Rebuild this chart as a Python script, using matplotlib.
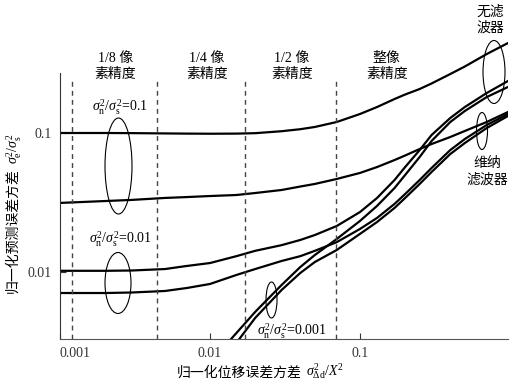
import matplotlib
matplotlib.use('Agg')
import matplotlib.pyplot as plt
from matplotlib.patches import Ellipse
from matplotlib.ticker import NullLocator

plt.rcParams['font.family'] = ['Liberation Serif', 'Noto Sans CJK SC']
plt.rcParams['mathtext.fontset'] = 'custom'
plt.rcParams['mathtext.rm'] = 'Liberation Serif'
plt.rcParams['mathtext.it'] = 'Liberation Serif:italic'
plt.rcParams['mathtext.bf'] = 'Liberation Serif:bold'
plt.rcParams['font.size'] = 10

# ---- data ----
x_err = [0.001, 0.002, 0.003, 0.005, 0.007, 0.01, 0.015, 0.02, 0.03, 0.04, 0.05,
         0.07, 0.1, 0.13, 0.17, 0.2, 0.25, 0.3, 0.4, 0.5, 0.7, 0.97]
nf_01 = [0.1, 0.1, 0.0998, 0.0993, 0.099, 0.0988, 0.099, 0.0997, 0.103, 0.1065, 0.1105,
         0.120, 0.137, 0.1538, 0.1756, 0.1892, 0.2073, 0.2271, 0.2657, 0.3009, 0.370, 0.444]
wf_01 = [0.0314, 0.0324, 0.0330, 0.0341, 0.0346, 0.0352, 0.0358, 0.0370, 0.0389, 0.0412,
         0.0430, 0.0467, 0.0516, 0.0569, 0.0639, 0.0689, 0.0767, 0.0833, 0.0936, 0.1034,
         0.120, 0.1416]
nf_001 = [0.0102, 0.0102, 0.01025, 0.0105, 0.01105, 0.0116, 0.0130, 0.0142, 0.0156, 0.0170,
          0.01845, 0.02143, 0.0270, 0.0341, 0.0459, 0.0569, 0.0754, 0.0967, 0.1282, 0.1538,
          0.194, 0.2366]
wf_001 = [0.00706, 0.00706, 0.00712, 0.0073, 0.00767, 0.0082, 0.00952, 0.0105, 0.0120,
          0.0130, 0.0142, 0.0164, 0.0204, 0.0245, 0.0309, 0.0364, 0.0459, 0.056, 0.0754,
          0.0905, 0.1142, 0.137]
x_err_low = [0.01, 0.015, 0.02, 0.03, 0.04, 0.05, 0.07, 0.1, 0.13, 0.17, 0.2, 0.25, 0.3,
             0.4, 0.5, 0.7, 0.97]
nf_0001 = [0.00222, 0.00364, 0.00516, 0.00806, 0.01086, 0.01325, 0.01728, 0.0233, 0.0299,
           0.0402, 0.0499, 0.0672, 0.0876, 0.120, 0.144, 0.1815, 0.2143]
wf_0001 = [0.00191, 0.00309, 0.00467, 0.00742, 0.00984, 0.0118, 0.0144, 0.0188, 0.0229,
           0.0289, 0.0341, 0.0430, 0.0524, 0.0706, 0.0847, 0.1086, 0.1326]

pixel_accuracy = [0.0012, 0.0044, 0.0172, 0.069]
acc_labels = ['1/8 像\n素精度', '1/4 像\n素精度', '1/2 像\n素精度', '整像\n素精度']
acc_label_x = [0.00233, 0.00955, 0.0352, 0.151]

x_ticks = [0.001, 0.01, 0.1]
x_ticklabels = ['0.001', '0.01', '0.1']
y_ticks = [0.01, 0.1]
y_ticklabels = ['0.01', '0.1']

# ---- figure ----
W, H = 515, 388
fig = plt.figure(figsize=(W / 100, H / 100), dpi=100)

def fx(p):
    return p / W

def fy(p):
    return 1 - p / H

ax = fig.add_axes([fx(60), fy(339), fx(508) - fx(60), fy(20) - fy(339)])
ax.set_xscale('log')
ax.set_yscale('log')
ylo, yhi = 10 ** (-2 - 67 / 139), 10 ** (-2 + 252 / 139)
ax.set_xlim(0.001, 0.97)
ax.set_ylim(ylo, yhi)

lw = 1.6
for ys in (nf_01, wf_01, nf_001, wf_001):
    ax.plot(x_err, ys, color='black', lw=lw, solid_joinstyle='round')
for ys in (nf_0001, wf_0001):
    ax.plot(x_err_low, ys, color='black', lw=lw, solid_joinstyle='round')

ax.vlines(pixel_accuracy, ylo, 0.245, colors='#444444', linestyles=(0, (3.5, 3)), lw=1.0)
for xa, lab in zip(acc_label_x, acc_labels):
    ax.text(xa, 0.30, lab, ha='center', va='center', linespacing=1.35, fontsize=10)

for s in ('top', 'right'):
    ax.spines[s].set_visible(False)
ax.spines['left'].set_bounds(ylo, 0.27)
ax.spines['left'].set_color('#333333')
ax.spines['bottom'].set_color('#555555')

ax.set_xticks(x_ticks, x_ticklabels)
ax.set_yticks(y_ticks, y_ticklabels)
ax.xaxis.set_minor_locator(NullLocator())
ax.yaxis.set_minor_locator(NullLocator())
ax.tick_params(direction='in', length=4, width=0.8, labelsize=10, pad=6, colors='#333333')
ax.get_xticklabels()[0].set_horizontalalignment('left')

# axis labels (Chinese part and math part drawn separately)
tx = fig.text(fx(177), fy(373), '归一化位移误差方差', ha='left', va='center', fontsize=10)
fig.text(0, 0, '$\\sigma_{\\Delta\\mathrm{d}}^{2}/X^{2}$', fontsize=10, ha='left', va='center',
         transform=matplotlib.transforms.offset_copy(fig.transFigure, fig=fig, x=0, y=0))
fig.texts[-1].remove()
ax.annotate('$\\sigma_{\\Delta\\mathrm{d}}^{2}/X^{2}$', xy=(1, 0.5), xycoords=tx,
            xytext=(3, 1), textcoords='offset points', ha='left', va='center', fontsize=10,
            annotation_clip=False)
ty = fig.text(fx(13), fy(293), '归一化预测误差方差', ha='center', va='bottom', rotation=90,
              fontsize=10)
ax.annotate('$\\sigma_{\\mathrm{e}}^{2}/\\sigma_{\\mathrm{s}}^{2}$', xy=(0.5, 1), xycoords=ty,
            xytext=(1, 3), textcoords='offset points', ha='center', va='bottom',
            rotation=90, fontsize=10, annotation_clip=False)

# group annotations
ratio = '$\\sigma_{\\mathrm{n}}^{2}/\\sigma_{\\mathrm{s}}^{2}$'
fig.text(fx(120), fy(107), ratio + '=0.1', ha='center', va='center', fontsize=10)
fig.text(fx(120), fy(239), ratio + '=0.01', ha='center', va='center', fontsize=10)
fig.text(fx(292), fy(331), ratio + '=0.001', ha='center', va='center', fontsize=10)
fig.text(fx(490), fy(20), '无滤\n波器', ha='center', va='center', linespacing=1.3, fontsize=10)
fig.text(fx(487), fy(172), '维纳\n滤波器', ha='center', va='center', linespacing=1.3, fontsize=10)

for cx, cy, w, h in [(118.5, 166, 27, 96), (118, 283, 26, 61), (271.5, 300, 11, 36),
                     (494, 72, 22, 63), (482, 131, 11, 37)]:
    e = Ellipse((fx(cx), fy(cy)), w / W, h / H, transform=fig.transFigure,
                fill=False, ec='black', lw=0.8)
    fig.add_artist(e)

fig.savefig('out.png', dpi=100)
